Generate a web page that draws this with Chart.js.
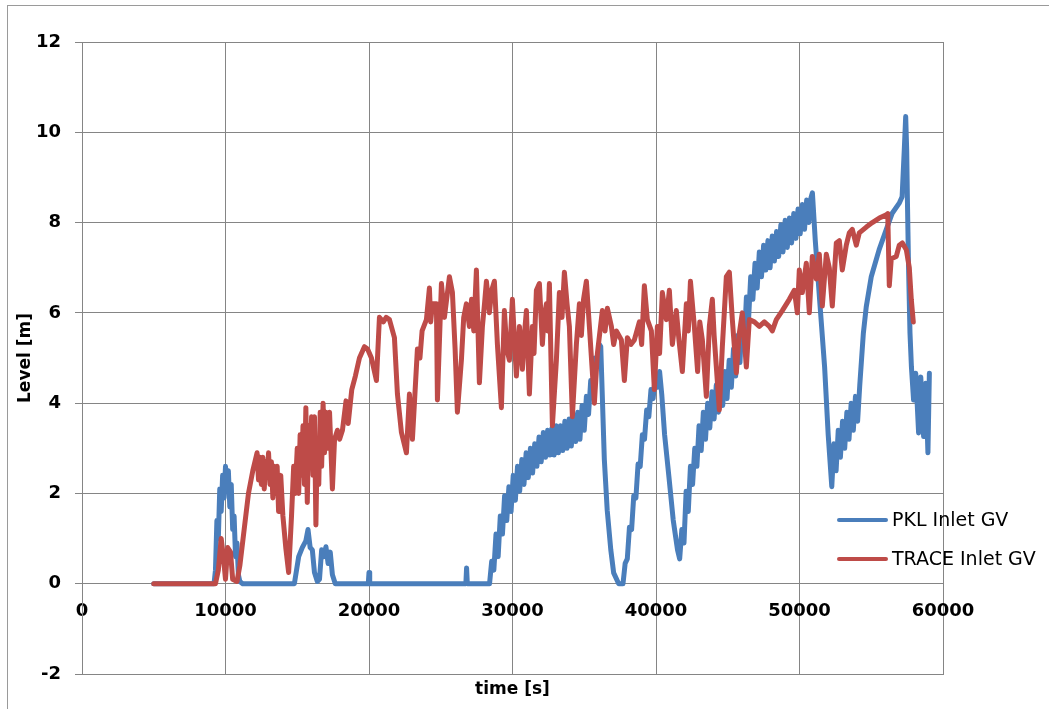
<!DOCTYPE html>
<html>
<head>
<meta charset="utf-8">
<title>Level vs time</title>
<script src="https://cdn.jsdelivr.net/npm/chart.js@4.4.0/dist/chart.umd.min.js"></script>
<style>
  html, body { margin: 0; padding: 0; background: #fff; overflow: hidden; }
  .wrap { position: relative; width: 1049px; height: 709px; }
  .frame { position: absolute; left: 7px; top: 5px; width: 1100px; height: 800px; border: 1px solid #9a9a9a; box-sizing: border-box; }
  canvas { position: absolute; left: 0; top: 0; }
</style>
</head>
<body>
<div class="wrap">
  <div class="frame"></div>
  <canvas id="level-chart" width="1049" height="709"></canvas>
</div>
<script>
// readings [time s, level m]
const pklPoints = [
  [5000, 0], [9200, 0], [9300, 0.3], [9400, 1.4], [9500, 1.0], [9600, 2.1], [9700, 1.6], [9800, 2.4],
  [9900, 1.9], [10000, 2.6], [10100, 2.1], [10200, 2.5], [10300, 1.7], [10400, 2.2], [10500, 1.2],
  [10600, 1.5], [10700, 0.6], [10800, 0.9], [10900, 0.2], [11000, 0.05], [11200, 0],
  [14800, 0], [14950, 0.3], [15100, 0.6], [15350, 0.8], [15600, 0.95], [15750, 1.2], [15900, 0.8],
  [16050, 0.75], [16200, 0.25], [16400, 0.05], [16550, 0.1], [16700, 0.75], [16850, 0.6], [17000, 0.82],
  [17150, 0.45], [17300, 0.7], [17450, 0.2], [17650, 0],
  [19950, 0], [20000, 0.25], [20050, 0], [26750, 0], [26800, 0.35], [26850, 0], [28400, 0],
  [28550, 0.5], [28700, 0.3], [28850, 1.1], [29000, 0.6], [29150, 1.5], [29300, 1.1], [29450, 1.95],
  [29600, 1.4], [29750, 2.15], [29900, 1.6], [30050, 2.4], [30200, 1.85], [30350, 2.6], [30500, 2.05],
  [30650, 2.75], [30800, 2.2], [30950, 2.9], [31100, 2.35], [31250, 3.0], [31400, 2.45], [31550, 3.1],
  [31700, 2.6], [31850, 3.25], [32000, 2.7], [32150, 3.35], [32300, 2.8], [32450, 3.4], [32600, 2.85],
  [32750, 3.45], [32900, 2.85], [33050, 3.5], [33200, 2.9], [33350, 3.5], [33500, 2.95], [33650, 3.6],
  [33800, 3.0], [33950, 3.65], [34100, 3.05], [34250, 3.75], [34400, 3.15], [34550, 3.8], [34700, 3.2],
  [34850, 3.95], [35000, 3.4], [35150, 4.15], [35300, 3.75], [35450, 4.5], [35600, 4.3], [35750, 5.0],
  [35900, 4.9], [36050, 5.3], [36150, 5.25],
  [36400, 2.75], [36600, 1.63], [36850, 0.75], [37050, 0.24], [37400, 0], [37700, 0],
  [37850, 0.45], [38000, 0.55], [38150, 1.25], [38300, 1.2], [38450, 1.95], [38600, 1.9], [38750, 2.65],
  [38900, 2.6], [39050, 3.3], [39200, 3.2], [39350, 3.85], [39500, 3.7], [39650, 4.3], [39800, 4.1],
  [39950, 4.6], [40100, 4.35], [40250, 4.7], [40400, 4.2],
  [40600, 3.3], [40900, 2.37], [41200, 1.41], [41500, 0.75], [41650, 0.55],
  [41800, 1.2], [41950, 0.9], [42100, 2.05], [42250, 1.6], [42400, 2.6], [42550, 2.2], [42700, 3.0],
  [42850, 2.6], [43000, 3.5], [43150, 2.95], [43300, 3.8], [43450, 3.2], [43600, 4.0], [43750, 3.45],
  [43900, 4.25], [44050, 3.65], [44200, 4.4], [44350, 3.8], [44500, 4.55], [44650, 3.95], [44800, 4.7],
  [44950, 4.1], [45100, 4.95], [45250, 4.35], [45400, 5.2], [45550, 4.6], [45700, 5.5], [45850, 4.9],
  [46000, 5.85], [46150, 5.3], [46300, 6.35], [46450, 5.85], [46600, 6.8], [46750, 6.3], [46900, 7.1],
  [47050, 6.55], [47200, 7.35], [47350, 6.8], [47500, 7.5], [47650, 6.95], [47800, 7.6], [47950, 7.0],
  [48100, 7.7], [48250, 7.15], [48400, 7.8], [48550, 7.25], [48700, 7.95], [48850, 7.35], [49000, 8.05],
  [49150, 7.45], [49300, 8.1], [49450, 7.55], [49600, 8.2], [49750, 7.65], [49900, 8.3], [50050, 7.75],
  [50200, 8.4], [50350, 7.85], [50500, 8.5], [50650, 8.0], [50800, 8.55], [50900, 8.66],
  [51100, 7.6], [51400, 6.3], [51750, 4.8], [52000, 3.3], [52250, 2.15],
  [52400, 3.1], [52550, 2.5], [52700, 3.4], [52850, 2.8], [53000, 3.6], [53150, 3.0], [53300, 3.8],
  [53450, 3.2], [53600, 4.0], [53750, 3.4], [53900, 4.15], [54050, 3.6], [54200, 4.4],
  [54450, 5.55], [54650, 6.13], [55000, 6.8], [55550, 7.4], [56050, 7.85], [56450, 8.2], [56950, 8.43],
  [57150, 8.57], [57300, 9.6], [57400, 10.35], [57470, 9.6], [57520, 8.5], [57600, 7.0], [57700, 5.55],
  [57800, 4.8], [57950, 4.07], [58100, 4.66], [58300, 3.34], [58450, 4.58], [58650, 3.26], [58800, 4.44],
  [58950, 2.9], [59050, 4.66]
];

const tracePoints = [
  [5000, 0], [9300, 0], [9500, 0.3], [9700, 1.0], [9850, 0.6], [10000, 0.1], [10150, 0.8], [10350, 0.7],
  [10500, 0.1], [10800, 0.05], [11000, 0.4], [11300, 1.2], [11600, 2.0], [11900, 2.5], [12200, 2.9],
  [12300, 2.3], [12400, 2.8], [12500, 2.2], [12600, 2.8], [12700, 2.1], [12800, 2.7], [12900, 2.4],
  [13000, 2.9], [13100, 2.2], [13200, 2.7], [13300, 1.9], [13400, 2.6], [13500, 2.0], [13600, 2.6],
  [13700, 1.6], [13850, 2.4], [14000, 1.5], [14200, 0.8], [14400, 0.25],
  [14600, 1.5], [14750, 2.6], [14850, 2.0], [15000, 3.0], [15100, 2.0], [15200, 3.3], [15300, 2.4],
  [15400, 3.5], [15500, 2.2], [15600, 3.9], [15700, 1.8], [15800, 3.5], [15900, 2.6], [16000, 3.7],
  [16100, 2.4], [16200, 3.7], [16300, 1.3], [16400, 3.2], [16500, 2.2], [16600, 3.8], [16700, 2.6],
  [16800, 4.0], [16900, 2.9], [17000, 3.8], [17100, 3.0], [17250, 3.8], [17450, 2.1], [17600, 3.2],
  [17800, 3.4], [17950, 3.2], [18150, 3.4], [18400, 4.05], [18550, 3.55], [18800, 4.3], [19050, 4.6],
  [19334, 5.0], [19682, 5.25], [19900, 5.2], [20170, 5.0], [20518, 4.5], [20727, 5.9], [21000, 5.8],
  [21200, 5.9], [21424, 5.85], [21772, 5.45], [21981, 4.2], [22260, 3.35], [22608, 2.9], [22817, 4.2],
  [23026, 3.2], [23374, 5.2], [23550, 5.0], [23700, 5.6], [24001, 5.85], [24210, 6.55], [24300, 5.8],
  [24419, 6.2], [24698, 6.2], [24768, 4.07], [25047, 6.65], [25256, 5.9], [25450, 6.4], [25604, 6.8],
  [25813, 6.45], [26000, 5.2], [26161, 3.8], [26440, 4.96], [26600, 5.9], [26788, 6.2], [26997, 5.7],
  [27150, 6.3], [27300, 5.6], [27485, 6.95], [27694, 4.45], [27903, 5.7], [28050, 6.2], [28182, 6.7],
  [28391, 6.0], [28550, 6.5], [28739, 6.7], [28948, 5.3], [29226, 3.9], [29435, 6.05], [29600, 5.2],
  [29784, 4.95], [29993, 6.3], [30150, 5.3], [30271, 4.6], [30481, 5.7], [30690, 4.75], [30850, 5.6],
  [30969, 6.05], [31177, 4.2], [31386, 5.7], [31500, 5.1], [31665, 6.5], [31874, 6.65], [32083, 5.3],
  [32200, 5.9], [32362, 6.2], [32450, 5.6], [32571, 6.65], [32780, 3.5], [33058, 4.95], [33267, 6.45],
  [33450, 5.9], [33616, 6.9], [33800, 6.2], [33964, 5.7], [34173, 3.7], [34452, 5.3], [34661, 6.2],
  [34800, 5.5], [34950, 6.3], [35148, 6.7], [35357, 5.7], [35706, 4.0], [35915, 5.1], [36263, 6.05],
  [36450, 5.6], [36612, 6.1], [36890, 5.7], [37050, 5.3], [37239, 5.6], [37587, 5.4], [37796, 4.5],
  [38005, 5.45], [38250, 5.3], [38493, 5.4], [38841, 5.8], [39000, 5.3], [39189, 6.6], [39398, 5.85],
  [39677, 5.6], [39886, 4.3], [40095, 5.7], [40250, 5.1], [40443, 6.45], [40722, 5.85], [40931, 6.5],
  [41140, 5.3], [41418, 6.05], [41600, 5.4], [41836, 4.7], [42115, 6.2], [42250, 5.6], [42400, 6.7],
  [42672, 5.7], [42900, 4.7], [43050, 5.8], [43230, 5.4], [43508, 4.15], [43717, 5.7], [43926, 6.3],
  [44050, 5.5], [44205, 4.8], [44414, 3.85], [44623, 5.25], [44902, 6.8], [45111, 6.9], [45320, 5.85],
  [45598, 4.67], [45807, 5.55], [46016, 6.0], [46295, 4.8], [46504, 5.85], [46852, 5.8], [47201, 5.7],
  [47549, 5.8], [47897, 5.7], [48106, 5.6], [48385, 5.85], [48803, 6.05], [49291, 6.3], [49639, 6.5],
  [49850, 6.0], [49987, 6.95], [50197, 6.45], [50475, 7.1], [50684, 6.0], [50893, 7.25], [51172, 6.75],
  [51381, 7.3], [51590, 6.15], [51868, 7.3], [52077, 7.0], [52286, 6.15], [52565, 7.55], [52774, 7.6],
  [52983, 6.95], [53261, 7.5], [53471, 7.77], [53680, 7.85], [53958, 7.5], [54167, 7.77], [54655, 7.9],
  [55073, 8.0], [55561, 8.1], [56048, 8.17], [56150, 8.2], [56257, 6.6], [56396, 7.2], [56745, 7.25],
  [56954, 7.5], [57163, 7.55], [57442, 7.4], [57651, 7.0], [57790, 6.3], [57930, 5.8]
];

const seriesNames = ['PKL Inlet GV', 'TRACE Inlet GV'];
const xTickLabels = ['0', '10000', '20000', '30000', '40000', '50000', '60000'];
const yTickLabels = ['-2', '0', '2', '4', '6', '8', '10', '12'];

const gridColor = '#858585';
const tickFont = { family: 'DejaVu Sans', size: 18, weight: 'bold' };
const titleFont = { family: 'DejaVu Sans', size: 17, weight: 'bold' };

const toXY = pts => pts.map(p => ({ x: p[0], y: p[1] }));

// legend drawn inside the plot, lower right, no background
const legendInside = {
  id: 'legendInside',
  afterDraw(chart) {
    const { ctx, chartArea } = chart;
    const x0 = chartArea.left + 757;
    const rows = [chartArea.top + 478, chartArea.top + 517];
    ctx.save();
    ctx.font = '19px "DejaVu Sans"';
    ctx.textBaseline = 'middle';
    ctx.fillStyle = '#000';
    chart.data.datasets.forEach((ds, i) => {
      const y = rows[i];
      ctx.strokeStyle = ds.borderColor;
      ctx.lineWidth = 4;
      ctx.lineCap = 'round';
      ctx.beginPath();
      ctx.moveTo(x0, y);
      ctx.lineTo(x0 + 47, y);
      ctx.stroke();
      ctx.fillText(ds.label, x0 + 53, y + 1);
    });
    ctx.restore();
  }
};

new Chart(document.getElementById('level-chart'), {
  type: 'line',
  data: {
    datasets: [
      {
        label: seriesNames[0],
        data: toXY(pklPoints),
        borderColor: '#4A7EBB',
        borderWidth: 5,
        pointRadius: 0,
        tension: 0,
        borderJoinStyle: 'round',
        borderCapStyle: 'round',
        order: 1
      },
      {
        label: seriesNames[1],
        data: toXY(tracePoints),
        borderColor: '#BE4B48',
        borderWidth: 5,
        pointRadius: 0,
        tension: 0,
        borderJoinStyle: 'round',
        borderCapStyle: 'round',
        order: 0
      }
    ]
  },
  options: {
    responsive: false,
    animation: false,
    layout: { padding: { left: 0, top: 42, right: 106, bottom: 0 } },
    plugins: {
      legend: { display: false },
      tooltip: { enabled: false }
    },
    scales: {
      x: {
        type: 'linear',
        position: 'bottom',
        min: 0,
        max: 60000,
        ticks: { display: false, stepSize: 10000 },
        grid: { color: gridColor, drawTicks: false },
        border: { color: gridColor },
        title: { display: true, text: 'time [s]', font: titleFont, color: '#000', padding: { top: 0, bottom: 9 } },
        afterFit: scale => { scale.height = 35; }
      },
      xLabels: {
        type: 'linear',
        axis: 'x',
        position: { y: 0 },
        min: 0,
        max: 60000,
        grid: { display: false, drawTicks: false },
        border: { display: false },
        ticks: {
          stepSize: 10000,
          padding: 17,
          maxRotation: 0,
          autoSkip: false,
          font: tickFont,
          color: '#000',
          callback: (v, i) => xTickLabels[i]
        }
      },
      y: {
        min: -2,
        max: 12,
        ticks: {
          stepSize: 2,
          padding: 14,
          font: tickFont,
          color: '#000',
          callback: (v, i) => yTickLabels[i]
        },
        grid: { color: gridColor, tickLength: 7 },
        border: { color: gridColor },
        title: { display: true, text: 'Level [m]', font: titleFont, color: '#000', padding: { top: 15, bottom: 0 } },
        afterFit: scale => { scale.width = 82; }
      }
    }
  },
  plugins: [legendInside]
});
</script>
</body>
</html>
